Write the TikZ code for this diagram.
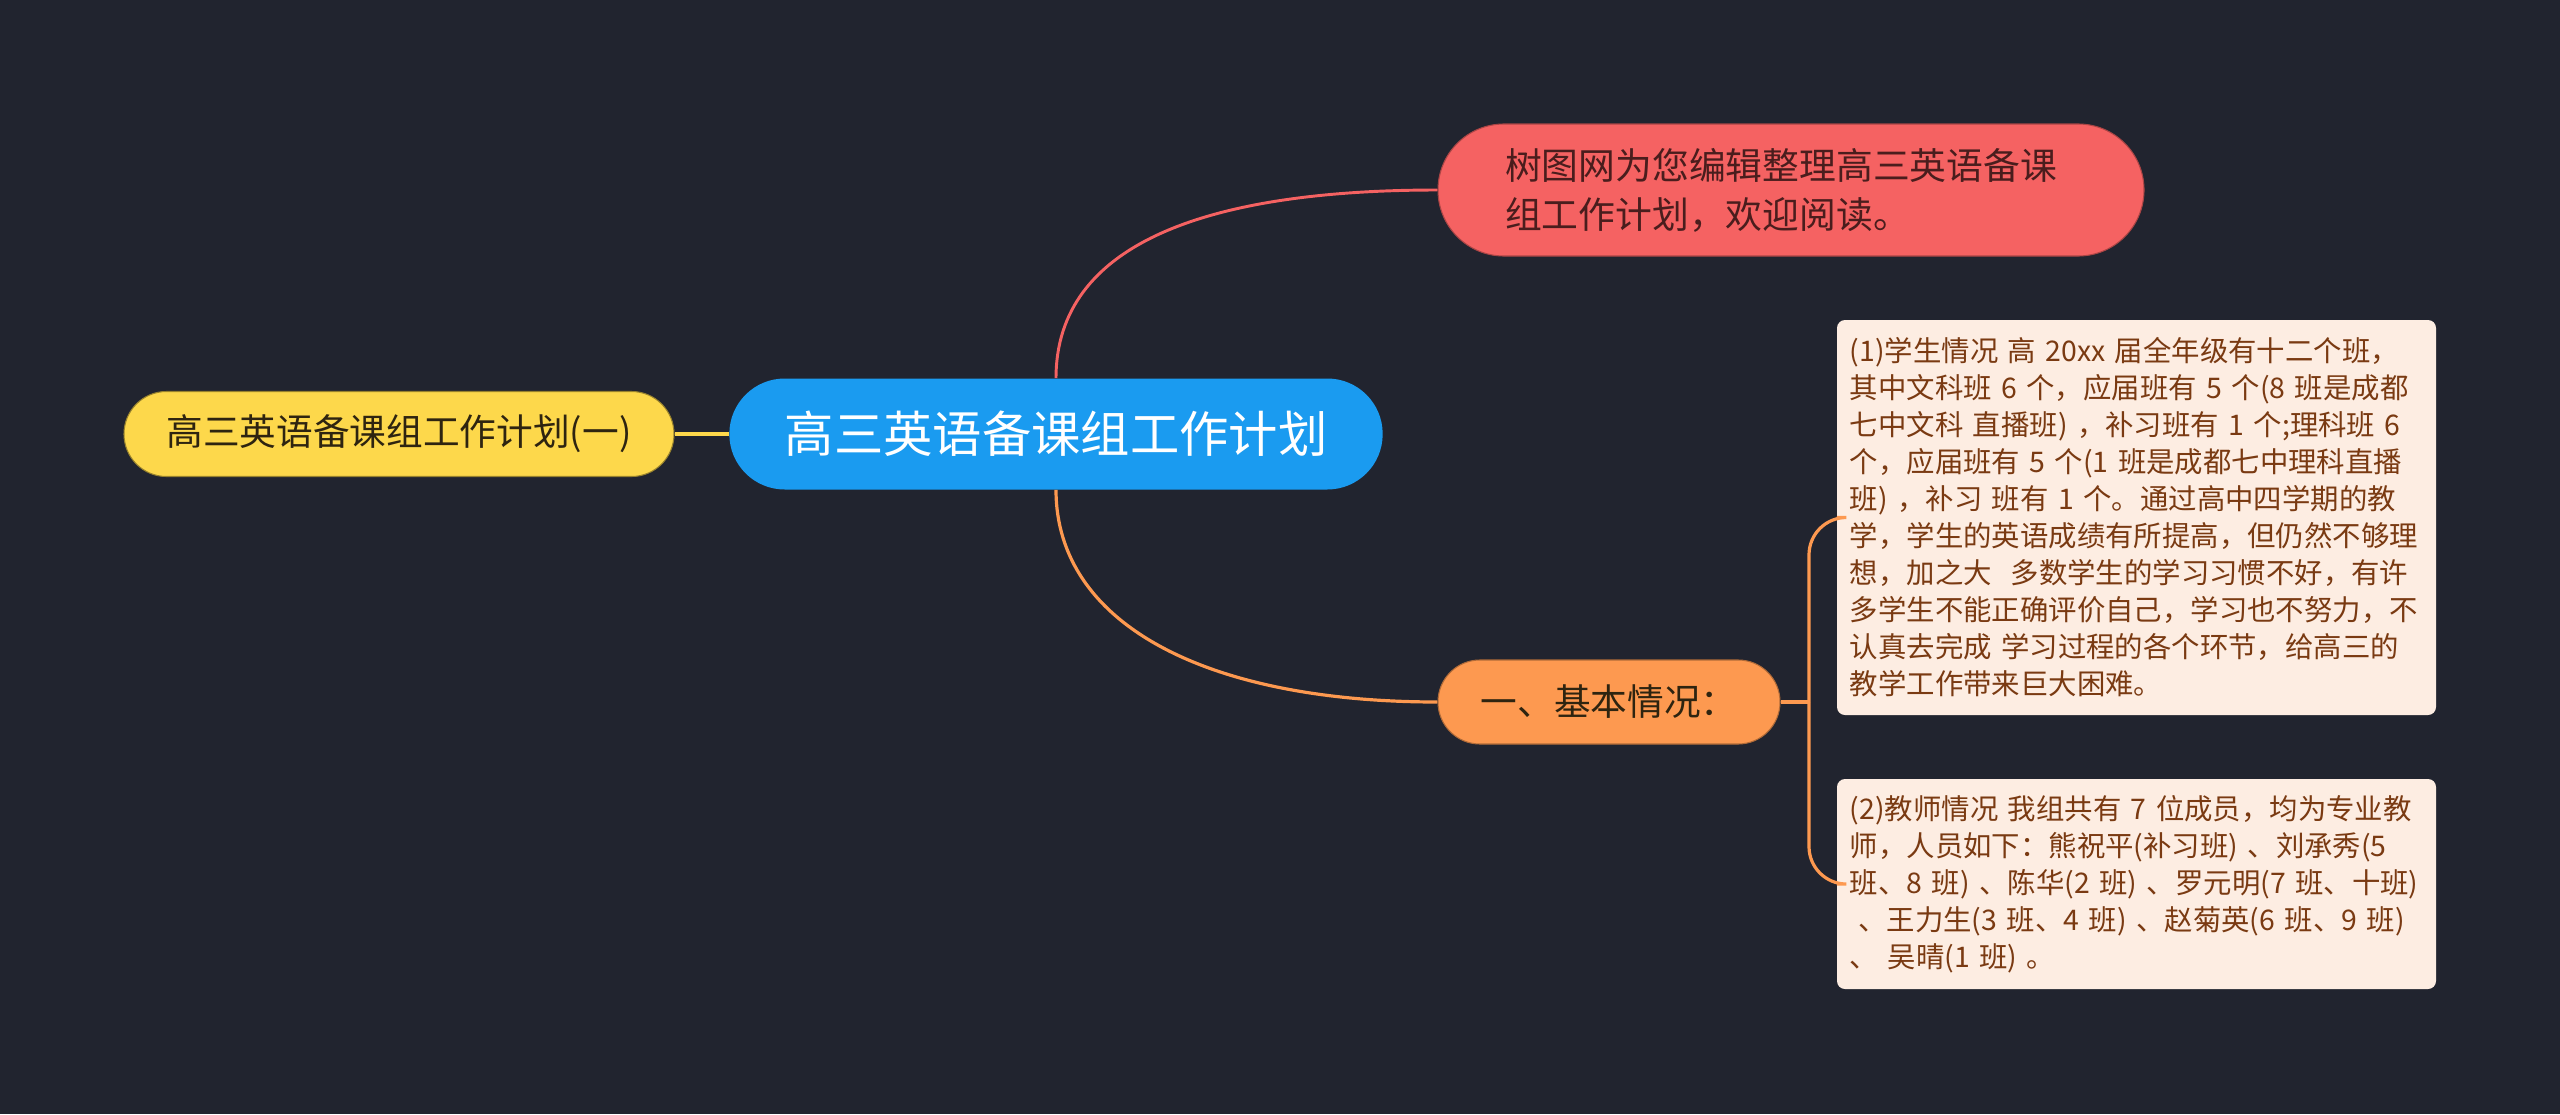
\documentclass[tikz,border=0pt]{standalone}
\usepackage{fontspec}
\setmainfont{Noto Sans CJK SC}
\definecolor{bg}{HTML}{21242F}
\definecolor{cblue}{HTML}{1A9BF0}
\definecolor{cyellow}{HTML}{FDD84B}
\definecolor{cred}{HTML}{F56262}
\definecolor{corange}{HTML}{FD9950}
\definecolor{boxfill}{HTML}{FDEDE2}
\definecolor{boxtext}{HTML}{7A3A12}
\definecolor{redtext}{HTML}{4A1D1D}
\definecolor{darktext}{HTML}{2E2410}
\begin{document}
\begin{tikzpicture}[x=0.75pt,y=-0.75pt,
  rootnode/.style={fill=cblue, text=white, minimum width=490pt, minimum height=83.25pt,
    rounded corners=41.5pt, inner sep=0pt, font=\fontsize{37}{44}\selectfont},
  leftnode/.style={fill=cyellow, draw=cyellow!60!black, line width=0.8pt, text=darktext,
    minimum width=412.5pt, minimum height=63.75pt, rounded corners=31.8pt, inner sep=0pt,
    font=\fontsize{27.5}{34}\selectfont},
  intronode/.style={fill=cred, draw=cred!70!black, line width=0.8pt, text=redtext,
    minimum width=529.5pt, minimum height=99pt, rounded corners=49.4pt, inner sep=0pt,
    text width=429pt, align=left, font=\fontsize{27.6}{36.75}\selectfont},
  basicnode/.style={fill=corange, draw=corange!70!black, line width=0.8pt, text=darktext,
    minimum width=256.5pt, minimum height=63pt, rounded corners=31.4pt, inner sep=0pt,
    font=\fontsize{27.5}{34}\selectfont},
  detailnode/.style={fill=boxfill, text=boxtext, minimum width=449.25pt, rounded corners=6pt,
    inner sep=0pt, text width=430pt, align=left, font=\fontsize{21.3}{27.75}\selectfont},
  redline/.style={draw=cred, line width=2.2pt},
  orangeline/.style={draw=corange, line width=2.4pt},
  yellowline/.style={draw=cyellow, line width=3.6pt}
]
\fill[bg] (0,0) rectangle (2560,1114);
\useasboundingbox (0,0) rectangle (2560,1114);

\node[rootnode] (root) at (1056,434) {高三英语备课组工作计划};
\node[leftnode] (left) at (399,434) {高三英语备课组工作计划(一)};
\node[intronode] (intro) at (1791,190) {树图网为您编辑整理高三英语备课\\组工作计划，欢迎阅读。};
\node[basicnode] (basic) at (1609,702) {一、基本情况：};
\node[detailnode, minimum height=296.25pt] (b1) at (2136.5,517.5) {%
(1)学生情况 高 20xx 届全年级有十二个班，\\
其中文科班 6 个，应届班有 5 个(8 班是成都\\
七中文科 直播班) ，补习班有 1 个;理科班 6\\
个，应届班有 5 个(1 班是成都七中理科直播\\
班) ，补习 班有 1 个。通过高中四学期的教\\
学，学生的英语成绩有所提高，但仍然不够理\\
想，加之大\ \ 多数学生的学习习惯不好，有许\\
多学生不能正确评价自己，学习也不努力，不\\
认真去完成 学习过程的各个环节，给高三的\\
教学工作带来巨大困难。};
\node[detailnode, minimum height=157.5pt] (b2) at (2136.5,884) {%
(2)教师情况 我组共有 7 位成员，均为专业教\\
师，人员如下：熊祝平(补习班) 、刘承秀(5\\
班、8 班) 、陈华(2 班) 、罗元明(7 班、十班)\\
\hspace*{0.3em}、王力生(3 班、4 班) 、赵菊英(6 班、9 班)\\
、 吴晴(1 班) 。};

\coordinate (bx) at (1809,702);

\draw[yellowline] (left.east) -- (root.west);
\draw[redline] (root.north) .. controls +(0,-135) and +(-230,0) .. (intro.west);
\draw[orangeline] (root.south) .. controls +(0,135) and +(-230,0) .. (basic.west);
\draw[orangeline] (basic.east) -- (bx);
\draw[orangeline, rounded corners=28pt] (bx) |- (b1.west);
\draw[orangeline, rounded corners=28pt] (bx) |- (b2.west);
\end{tikzpicture}
\end{document}
